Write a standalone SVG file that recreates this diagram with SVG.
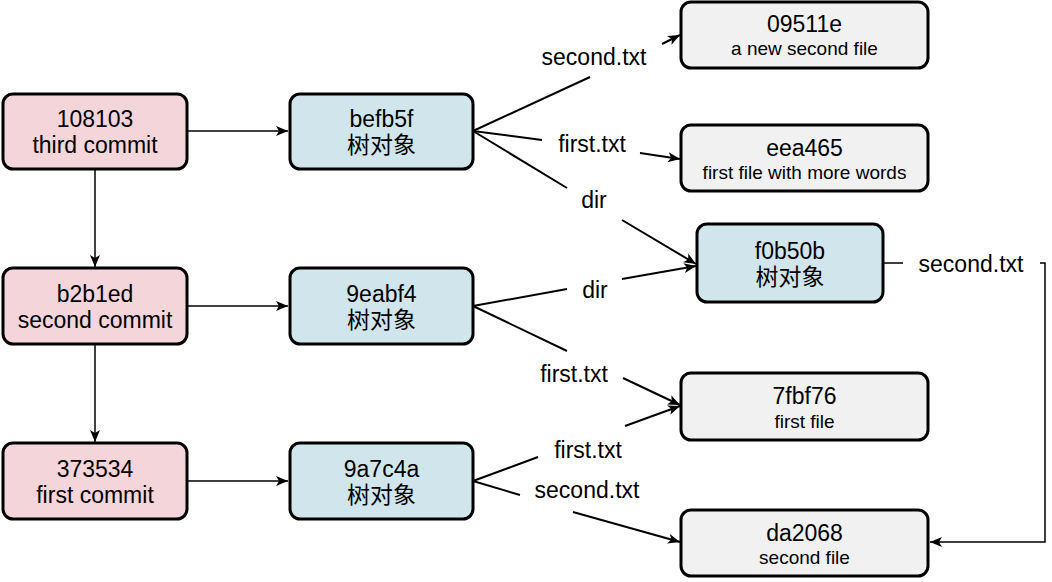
<svg xmlns="http://www.w3.org/2000/svg" width="1052" height="582" viewBox="0 0 1052 582">
<defs>
<style>
.box{stroke:#000;stroke-width:3}
.commit{fill:#f4d6da}
.tree{fill:#d1e6ec}
.blob{fill:#f1f1f1}
text{font-family:"Liberation Sans",Arial,"Noto Sans CJK SC",sans-serif;fill:#000;text-anchor:middle}
.t{font-size:23px}
.s{font-size:19px}
.lbl{font-size:23px}
.e{fill:none;stroke:#000;stroke-width:2}
.e1{fill:none;stroke:#000;stroke-width:1.5}
</style>
<marker id="arr" markerUnits="userSpaceOnUse" markerWidth="13" markerHeight="11" refX="12" refY="5.5" orient="auto">
<path d="M0,0.5 L12,5.5 L0,10.5 L3,5.5 Z" fill="#000"/>
</marker>
</defs>
<rect width="1052" height="582" fill="#fff"/>

<g id="connectors">
<path class="e1" d="M187,131 H288" marker-end="url(#arr)"/>
<path class="e1" d="M187,306 H288" marker-end="url(#arr)"/>
<path class="e1" d="M187,481 H288" marker-end="url(#arr)"/>
<path class="e1" d="M95,169 V267" marker-end="url(#arr)"/>
<path class="e1" d="M95,344 V442" marker-end="url(#arr)"/>
<path class="e" d="M473,131 L590,77 M662,44 L680,35" marker-end="url(#arr)"/>
<path class="e" d="M473,131 L542,140 M640,153 L680,159" marker-end="url(#arr)"/>
<path class="e" d="M473,131 L567,188 M622,220 L696,264" marker-end="url(#arr)"/>
<path class="e" d="M473,306 L567,289 M622,279 L696,266" marker-end="url(#arr)"/>
<path class="e" d="M473,306 L567,351 M623,378 L680,405" marker-end="url(#arr)"/>
<path class="e" d="M473,481 L538,457 M625,426 L680,406" marker-end="url(#arr)"/>
<path class="e" d="M473,481 L520,495 M573,512 L680,542" marker-end="url(#arr)"/>
<path class="e1" d="M883,263 H903 M1040,263 H1045 V542 H930" marker-end="url(#arr)"/>
<text class="lbl" x="594" y="65">second.txt</text>
<text class="lbl" x="592" y="152">first.txt</text>
<text class="lbl" x="594" y="208">dir</text>
<text class="lbl" x="595" y="298">dir</text>
<text class="lbl" x="574" y="382">first.txt</text>
<text class="lbl" x="588" y="458">first.txt</text>
<text class="lbl" x="587" y="498">second.txt</text>
<text class="lbl" x="971" y="272">second.txt</text>
</g>

<g id="c3"><rect class="box commit" x="3" y="94" width="184" height="75" rx="10"/><text class="t" x="95" y="127">108103</text><text class="t" x="95" y="153">third commit</text></g>
<g id="c2"><rect class="box commit" x="3" y="268" width="184" height="76" rx="10"/><text class="t" x="95" y="302">b2b1ed</text><text class="t" x="95" y="328">second commit</text></g>
<g id="c1"><rect class="box commit" x="3" y="443" width="184" height="76" rx="10"/><text class="t" x="95" y="477">373534</text><text class="t" x="95" y="503">first commit</text></g>

<g id="t3"><rect class="box tree" x="290" y="94" width="183" height="75" rx="10"/><text class="t" x="381.5" y="127">befb5f</text><text class="t" x="381.5" y="153">树对象</text></g>
<g id="t2"><rect class="box tree" x="290" y="268" width="183" height="76" rx="10"/><text class="t" x="381.5" y="302">9eabf4</text><text class="t" x="381.5" y="328">树对象</text></g>
<g id="t1"><rect class="box tree" x="290" y="443" width="183" height="76" rx="10"/><text class="t" x="381.5" y="477">9a7c4a</text><text class="t" x="381.5" y="503">树对象</text></g>
<g id="tdir"><rect class="box tree" x="697" y="224" width="186" height="78" rx="10"/><text class="t" x="790" y="259">f0b50b</text><text class="t" x="790" y="285">树对象</text></g>

<g id="b09511e"><rect class="box blob" x="681" y="2" width="247" height="66" rx="10"/><text class="t" x="804.5" y="32">09511e</text><text class="s" x="804.5" y="55">a new second file</text></g>
<g id="beea465"><rect class="box blob" x="681" y="125" width="247" height="66" rx="10"/><text class="t" x="804.5" y="156">eea465</text><text class="s" x="804.5" y="179">first file with more words</text></g>
<g id="b7fbf76"><rect class="box blob" x="681" y="373" width="247" height="67" rx="10"/><text class="t" x="804.5" y="404">7fbf76</text><text class="s" x="804.5" y="428">first file</text></g>
<g id="bda2068"><rect class="box blob" x="681" y="510" width="247" height="66" rx="10"/><text class="t" x="804.5" y="541">da2068</text><text class="s" x="804.5" y="564">second file</text></g>
</svg>
